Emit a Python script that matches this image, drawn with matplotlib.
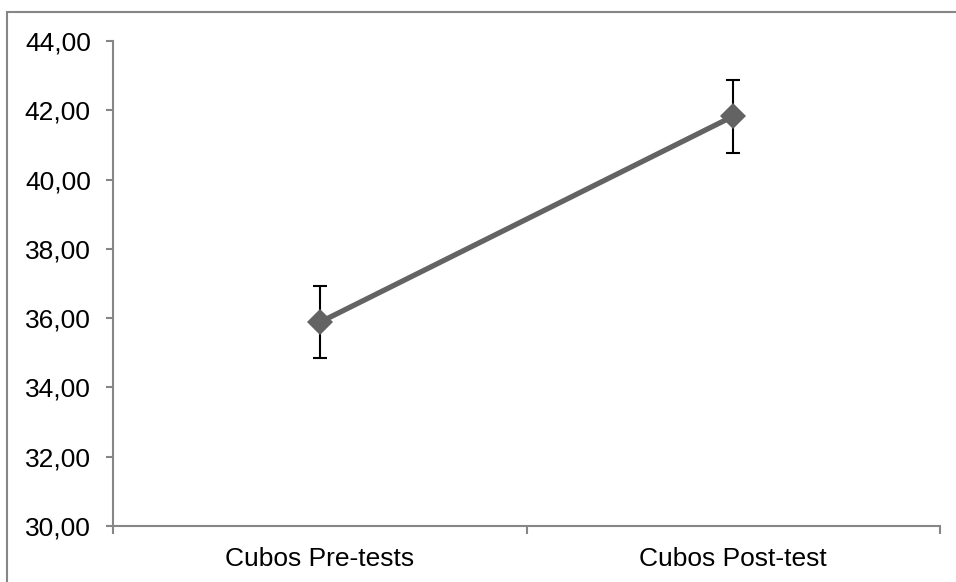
import matplotlib.pyplot as plt
from matplotlib.ticker import FuncFormatter, FixedLocator
from matplotlib.patches import Rectangle

plt.rcParams['font.family'] = ['Liberation Sans', 'DejaVu Sans']

# datos
categorias = ["Cubos Pre-tests", "Cubos Post-test"]
medias = [35.88, 41.83]
errores = [1.04, 1.05]

fig = plt.figure(figsize=(9.56, 5.82), dpi=100)
ax = fig.add_axes([113 / 956, 1 - 526 / 582, 827 / 956, 485 / 582])

x = list(range(len(categorias)))
gris = '#868686'

# barras de error
ax.errorbar(x, medias, yerr=errores, fmt='none', ecolor='black',
            elinewidth=1.5, capsize=4.7, capthick=1.5, zorder=2)
# linea con marcadores
ax.plot(x, medias, color='#636363', linewidth=3.8, marker='D',
        markersize=13, markeredgewidth=0, zorder=3)

ax.set_xlim(-0.5, len(categorias) - 0.5)
ax.set_ylim(30, 44)
ax.set_yticks(range(30, 45, 2))
ax.yaxis.set_major_formatter(FuncFormatter(lambda v, p: f"{v:.2f}".replace('.', ',')))

ax.set_xticks(x)
ax.set_xticklabels(categorias)
ax.xaxis.set_minor_locator(FixedLocator([-0.5, 0.5, 1.5]))

ax.tick_params(axis='x', which='major', length=0, labelsize=19, pad=15)
ax.tick_params(axis='x', which='minor', length=6, width=1.5, color=gris, direction='out')
ax.tick_params(axis='y', length=5, width=1.5, color=gris, labelsize=19, pad=11, direction='out')

for lado in ['top', 'right']:
    ax.spines[lado].set_visible(False)
for lado in ['left', 'bottom']:
    ax.spines[lado].set_color(gris)
    ax.spines[lado].set_linewidth(1.5)

# marco exterior
marco = Rectangle((7 / 956, -0.2), 1.5, 0.2 + 1 - 12 / 582, transform=fig.transFigure,
                  fill=False, edgecolor=gris, linewidth=1.5, clip_on=False)
fig.patches.append(marco)

fig.savefig('out.png', dpi=100)
